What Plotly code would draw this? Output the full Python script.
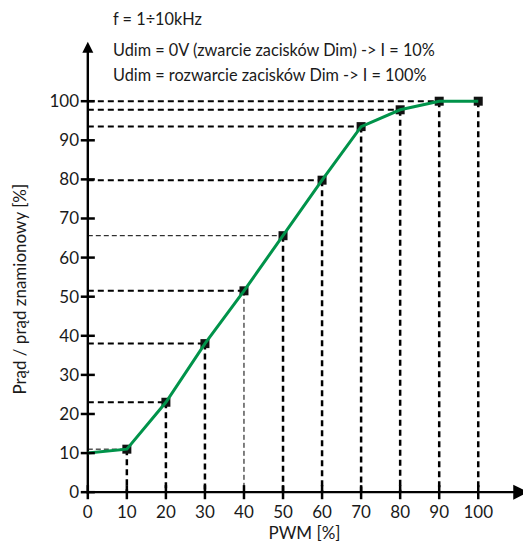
import plotly.graph_objects as go

pwm = [0, 10, 20, 30, 40, 50, 60, 70, 80, 90, 100]
current = [10, 11, 23, 38, 51.5, 65.6, 79.8, 93.5, 97.8, 100, 100]
# reference (dashed) lines: marker index -> thin style flags
guide_idx = [1, 2, 3, 4, 5, 6, 7, 8, 9, 10]
h_thin = [True, False, False, False, True, False, False, False, False, None]
v_thin = [False, False, False, True, False, False, False, False, False, False]
ticks = [0, 10, 20, 30, 40, 50, 60, 70, 80, 90, 100]
header = ["f = 1÷10kHz",
          "Udim = 0V (zwarcie zacisków Dim) -> I = 10%",
          "Udim = rozwarcie zacisków Dim -> I = 100%"]
x_axis_end = 112.8
y_axis_end = 115.2

GREEN = "#00934a"
FONT = "Lato"
TXT = "#1a1a1a"

fig = go.Figure()

for k, i in enumerate(guide_idx):
    x, y = pwm[i], current[i]
    if h_thin[k] is not None:
        thin = h_thin[k]
        fig.add_trace(go.Scatter(x=[0, x], y=[y, y], mode="lines", hoverinfo="skip",
                                 line=dict(color="black", width=1 if thin else 2,
                                           dash="5px,3px" if thin else "6px,4px")))
    thin = v_thin[k]
    fig.add_trace(go.Scatter(x=[x, x], y=[y, 0], mode="lines", hoverinfo="skip",
                             line=dict(color="black", width=1 if thin else 2.5,
                                       dash="5px,3px" if thin else "6px,4px")))

# y axis line and arrowhead
fig.add_trace(go.Scatter(x=[0, 0], y=[-0.4, y_axis_end - 2], mode="lines", hoverinfo="skip",
                         line=dict(color="black", width=2.4), cliponaxis=False))
fig.add_trace(go.Scatter(x=[0], y=[y_axis_end], mode="markers", hoverinfo="skip",
                         marker=dict(symbol="arrow-up", size=11, color="black",
                                     line=dict(width=0)), cliponaxis=False))

fig.add_trace(go.Scatter(x=pwm[1:], y=current[1:], mode="markers",
                         marker=dict(symbol="square", size=9, color="#111111"),
                         cliponaxis=False))
fig.add_trace(go.Scatter(x=pwm, y=current, mode="lines",
                         line=dict(color=GREEN, width=3), cliponaxis=False))

shapes = []
for t in ticks:
    shapes.append(dict(type="line", xref="x", yref="y", x0=t, x1=t, y0=-1.8, y1=1.8,
                       line=dict(color="black", width=2.5)))
    shapes.append(dict(type="line", xref="x", yref="y", x0=-1.8, x1=1.8, y0=t, y1=t,
                       line=dict(color="black", width=2.5)))

annotations = []
annotations.append(dict(x=x_axis_end, y=0, ax=-0.3, ay=0, xref="x", yref="y", axref="x", ayref="y",
                        text="", showarrow=True, arrowhead=2, arrowsize=1.3, arrowwidth=2.3,
                        arrowcolor="black"))

W, H = 523, 538
plot_l, plot_r, plot_t, plot_b = 72.2, 2.3, 14.8, 46.2
plot_w = W - plot_l - plot_r
plot_h = H - plot_t - plot_b


def paper_x(window_px):
    return (window_px - 8 - plot_l) / plot_w


def paper_y(window_py):
    return 1 - (window_py - 8 - plot_t) / plot_h


header_px = [18, 49, 74]
for txt, py in zip(header, header_px):
    annotations.append(dict(x=paper_x(111), y=paper_y(py), xref="paper", yref="paper",
                            text=txt, showarrow=False, xanchor="left", yanchor="middle",
                            font=dict(family=FONT, size=16.3, color=TXT)))
annotations.append(dict(x=paper_x(20), y=52, xref="paper", yref="y",
                        text="Prąd / prąd znamionowy [%]",
                        showarrow=False, textangle=-90, xanchor="center", yanchor="middle",
                        font=dict(family=FONT, size=17, color=TXT)))

fig.update_layout(
    width=W, height=H,
    margin=dict(l=plot_l, r=plot_r, t=plot_t, b=plot_b),
    plot_bgcolor="white", paper_bgcolor="white",
    showlegend=False,
    shapes=shapes, annotations=annotations,
    xaxis=dict(range=[-2, 113], tickvals=ticks, ticks="", showgrid=False, zeroline=False,
               showline=False, tickfont=dict(family=FONT, size=17, color=TXT),
               title=dict(text="PWM [%]", standoff=3,
                          font=dict(family=FONT, size=17, color=TXT))),
    yaxis=dict(range=[-2, 120], tickvals=ticks, ticks="", showgrid=False, zeroline=False,
               showline=False, tickfont=dict(family=FONT, size=17, color=TXT)),
)

fig.write_html("out.html")
